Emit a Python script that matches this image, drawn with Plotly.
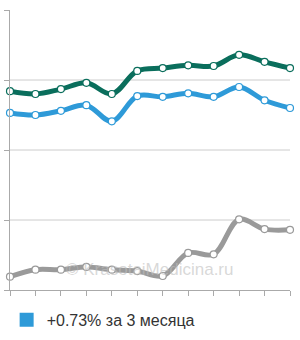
import plotly.graph_objects as go

x_idx = list(range(12))
green = [2.84, 2.80, 2.87, 2.96, 2.80, 3.13, 3.17, 3.21, 3.20, 3.36, 3.26, 3.17]
blue = [2.53, 2.50, 2.56, 2.64, 2.41, 2.77, 2.76, 2.81, 2.76, 2.90, 2.71, 2.60]
gray = [0.19, 0.29, 0.29, 0.33, 0.29, 0.27, 0.20, 0.53, 0.51, 1.01, 0.87, 0.86]
grid_vals = [1, 2, 3]
legend_label = "+0.73% за 3 месяца"
watermark = "© KrasotaiMedicina.ru"

C_GREEN = "#0a6e5c"
C_BLUE = "#2e9ad8"
C_GRAY = "#9a9a9a"

fig = go.Figure()

def add_series(vals, color, width=5):
    fig.add_trace(go.Scatter(
        x=x_idx, y=vals, mode="lines+markers",
        line=dict(color=color, width=width, shape="spline", smoothing=1.0),
        marker=dict(size=7, color="white", line=dict(color=color, width=1.2)),
        cliponaxis=False, showlegend=False, hoverinfo="skip"))

add_series(gray, C_GRAY)
add_series(blue, C_BLUE)
add_series(green, C_GREEN)

fig.add_trace(go.Scatter(
    x=[None], y=[None], mode="markers", name=legend_label,
    marker=dict(symbol="square", size=14, color=C_BLUE), showlegend=True))

for g in grid_vals:
    fig.add_shape(type="line", xref="paper", yref="y", x0=0, x1=1, y0=g, y1=g,
                  line=dict(color="#cccccc", width=1), layer="below")

fig.add_annotation(text=watermark, x=0.5, y=0.3, xref="paper", yref="y",
                   showarrow=False, font=dict(family="Liberation Sans, Arial", size=17,
                                              color="rgba(190,190,190,0.6)"))

fig.update_layout(
    width=300, height=340,
    margin=dict(l=10, r=10, t=10, b=50, autoexpand=False),
    paper_bgcolor="white", plot_bgcolor="white",
    font=dict(family="Liberation Sans, Arial", color="#333333"),
    showlegend=True,
    legend=dict(orientation="h", x=-0.012, y=-0.046, xanchor="left", yanchor="top",
                font=dict(size=16, color="#333333"), bgcolor="rgba(0,0,0,0)"),
    xaxis=dict(range=[0, 11], showgrid=False, zeroline=False, showline=True,
               linecolor="#aaaaaa", linewidth=1, ticks="outside", ticklen=5,
               tickcolor="#aaaaaa", tickvals=x_idx, showticklabels=False, fixedrange=True),
    yaxis=dict(range=[0, 4], showgrid=False, zeroline=False, showline=True,
               linecolor="#aaaaaa", linewidth=1, ticks="outside", ticklen=5,
               tickcolor="#aaaaaa", tickvals=[0, 1, 2, 3, 4], showticklabels=False,
               fixedrange=True),
)

fig.write_html("out.html")
